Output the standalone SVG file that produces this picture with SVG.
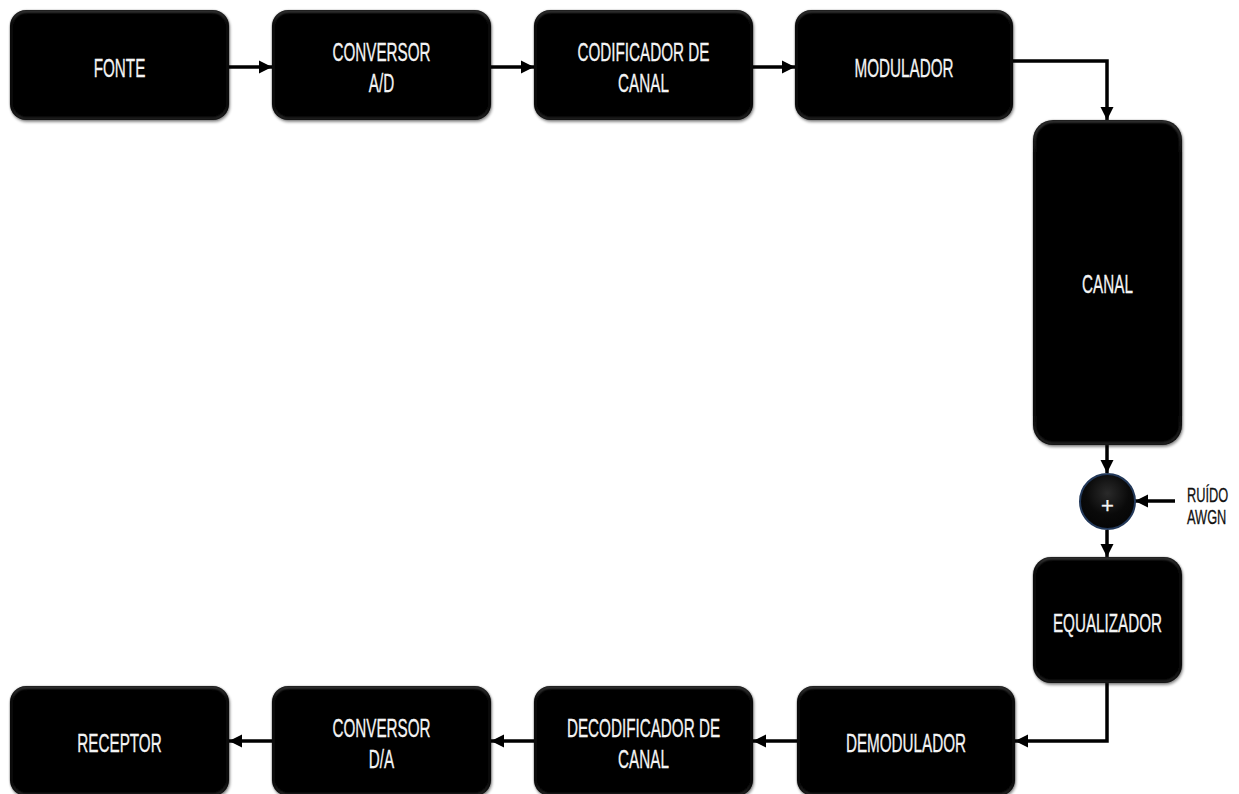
<svg xmlns="http://www.w3.org/2000/svg" width="1239" height="794" viewBox="0 0 1239 794">
  <defs>
    <style>
      .box { fill: #050505; filter: url(#shadow); }
      .bevel { fill: none; stroke: url(#bevelGrad); stroke-width: 1.6; filter: url(#soft); }
      .lbl { font-family: "Liberation Sans", Arial, sans-serif; font-size: 25px; fill: #f4f4f4; stroke: #f4f4f4; stroke-width: 0.3; text-anchor: middle; }
      .side { font-family: "Liberation Sans", Arial, sans-serif; font-size: 21px; fill: #111; stroke: #111; stroke-width: 0.3; }
      .wire { fill: none; stroke: #000; stroke-width: 3.5; }
      .arrow { marker-end: url(#head); }
    </style>
    <linearGradient id="bevelGrad" x1="0" y1="0" x2="0" y2="1">
      <stop offset="0" stop-color="#5e5e5e"/>
      <stop offset="0.1" stop-color="#1c1c1c"/>
      <stop offset="0.88" stop-color="#141414"/>
      <stop offset="1" stop-color="#3a3a3a"/>
    </linearGradient>
    <radialGradient id="sumGrad" cx="0.5" cy="0.35" r="0.65">
      <stop offset="0" stop-color="#2a2a2a"/>
      <stop offset="0.6" stop-color="#0a0a0a"/>
      <stop offset="1" stop-color="#050505"/>
    </radialGradient>
    <filter id="shadow" x="-10%" y="-10%" width="120%" height="130%">
      <feGaussianBlur in="SourceAlpha" stdDeviation="1.5"/>
      <feOffset dx="1" dy="2" result="b"/>
      <feComponentTransfer><feFuncA type="linear" slope="0.45"/></feComponentTransfer>
      <feMerge><feMergeNode/><feMergeNode in="SourceGraphic"/></feMerge>
    </filter>
    <filter id="soft" x="-5%" y="-5%" width="110%" height="110%">
      <feGaussianBlur stdDeviation="0.8"/>
    </filter>
    <marker id="head" viewBox="0 0 13 14" refX="13" refY="7" markerWidth="13" markerHeight="14" markerUnits="userSpaceOnUse" orient="auto">
      <path d="M0,0.5 L13,7 L0,13.5 z" fill="#000"/>
    </marker>
  </defs>

  <rect width="1239" height="794" fill="#fff"/>

  <!-- signal path -->
  <g id="connectors">
    <line class="wire arrow" x1="229" y1="67" x2="272" y2="67"/>
    <line class="wire arrow" x1="491" y1="67" x2="534" y2="67"/>
    <line class="wire arrow" x1="753" y1="67" x2="795" y2="67"/>
    <polyline class="wire arrow" points="1013,61 1107,61 1107,120"/>
    <line class="wire arrow" x1="1107" y1="445" x2="1107" y2="473"/>
    <line class="wire arrow" x1="1175" y1="501" x2="1135" y2="501"/>
    <line class="wire arrow" x1="1107" y1="530" x2="1107" y2="557"/>
    <polyline class="wire arrow" points="1107,683 1107,741 1015,741"/>
    <line class="wire arrow" x1="797" y1="741" x2="753" y2="741"/>
    <line class="wire arrow" x1="534" y1="741" x2="491" y2="741"/>
    <line class="wire arrow" x1="272" y1="741" x2="229" y2="741"/>
  </g>

  <!-- transmitter chain -->
  <g id="fonte">
    <rect class="box" x="10" y="10" width="219" height="110" rx="16"/>
    <rect class="bevel" x="11.5" y="11.5" width="216" height="107" rx="15"/>
    <text class="lbl" transform="translate(119.5 76.5) scale(0.61 1)">FONTE</text>
  </g>
  <g id="conversor-ad">
    <rect class="box" x="272" y="10" width="219" height="110" rx="16"/>
    <rect class="bevel" x="273.5" y="11.5" width="216" height="107" rx="15"/>
    <text class="lbl" transform="translate(381.5 61) scale(0.61 1)">CONVERSOR</text>
    <text class="lbl" transform="translate(381.5 92) scale(0.61 1)">A/D</text>
  </g>
  <g id="codificador">
    <rect class="box" x="534" y="10" width="219" height="110" rx="16"/>
    <rect class="bevel" x="535.5" y="11.5" width="216" height="107" rx="15"/>
    <text class="lbl" transform="translate(643.5 61) scale(0.61 1)">CODIFICADOR DE</text>
    <text class="lbl" transform="translate(643.5 92) scale(0.61 1)">CANAL</text>
  </g>
  <g id="modulador">
    <rect class="box" x="795" y="10" width="218" height="110" rx="16"/>
    <rect class="bevel" x="796.5" y="11.5" width="215" height="107" rx="15"/>
    <text class="lbl" transform="translate(904 76.5) scale(0.61 1)">MODULADOR</text>
  </g>

  <!-- channel -->
  <g id="canal">
    <rect class="box" x="1033" y="120" width="149" height="325" rx="20"/>
    <rect class="bevel" x="1034.5" y="121.5" width="146" height="322" rx="19"/>
    <text class="lbl" transform="translate(1107.5 293) scale(0.61 1)">CANAL</text>
  </g>
  <g id="somador">
    <circle cx="1107.5" cy="501.5" r="27.5" fill="url(#sumGrad)" stroke="#23395a" stroke-width="2"/>
    <text class="lbl" style="font-size:22px" x="1107.5" y="513">+</text>
  </g>
  <g id="ruido">
    <text class="side" transform="translate(1187 502) scale(0.61 1)">RUÍDO</text>
    <text class="side" transform="translate(1187 524) scale(0.61 1)">AWGN</text>
  </g>

  <!-- receiver chain -->
  <g id="equalizador">
    <rect class="box" x="1033" y="557" width="149" height="126" rx="18"/>
    <rect class="bevel" x="1034.5" y="558.5" width="146" height="123" rx="17"/>
    <text class="lbl" transform="translate(1107.5 632) scale(0.61 1)">EQUALIZADOR</text>
  </g>
  <g id="demodulador">
    <rect class="box" x="797" y="686" width="218" height="110" rx="16"/>
    <rect class="bevel" x="798.5" y="687.5" width="215" height="107" rx="15"/>
    <text class="lbl" transform="translate(906 752) scale(0.61 1)">DEMODULADOR</text>
  </g>
  <g id="decodificador">
    <rect class="box" x="534" y="686" width="219" height="110" rx="16"/>
    <rect class="bevel" x="535.5" y="687.5" width="216" height="107" rx="15"/>
    <text class="lbl" transform="translate(643.5 737) scale(0.61 1)">DECODIFICADOR DE</text>
    <text class="lbl" transform="translate(643.5 768) scale(0.61 1)">CANAL</text>
  </g>
  <g id="conversor-da">
    <rect class="box" x="272" y="686" width="219" height="110" rx="16"/>
    <rect class="bevel" x="273.5" y="687.5" width="216" height="107" rx="15"/>
    <text class="lbl" transform="translate(381.5 737) scale(0.61 1)">CONVERSOR</text>
    <text class="lbl" transform="translate(381.5 768) scale(0.61 1)">D/A</text>
  </g>
  <g id="receptor">
    <rect class="box" x="10" y="686" width="219" height="110" rx="16"/>
    <rect class="bevel" x="11.5" y="687.5" width="216" height="107" rx="15"/>
    <text class="lbl" transform="translate(119.5 752) scale(0.61 1)">RECEPTOR</text>
  </g>
</svg>
